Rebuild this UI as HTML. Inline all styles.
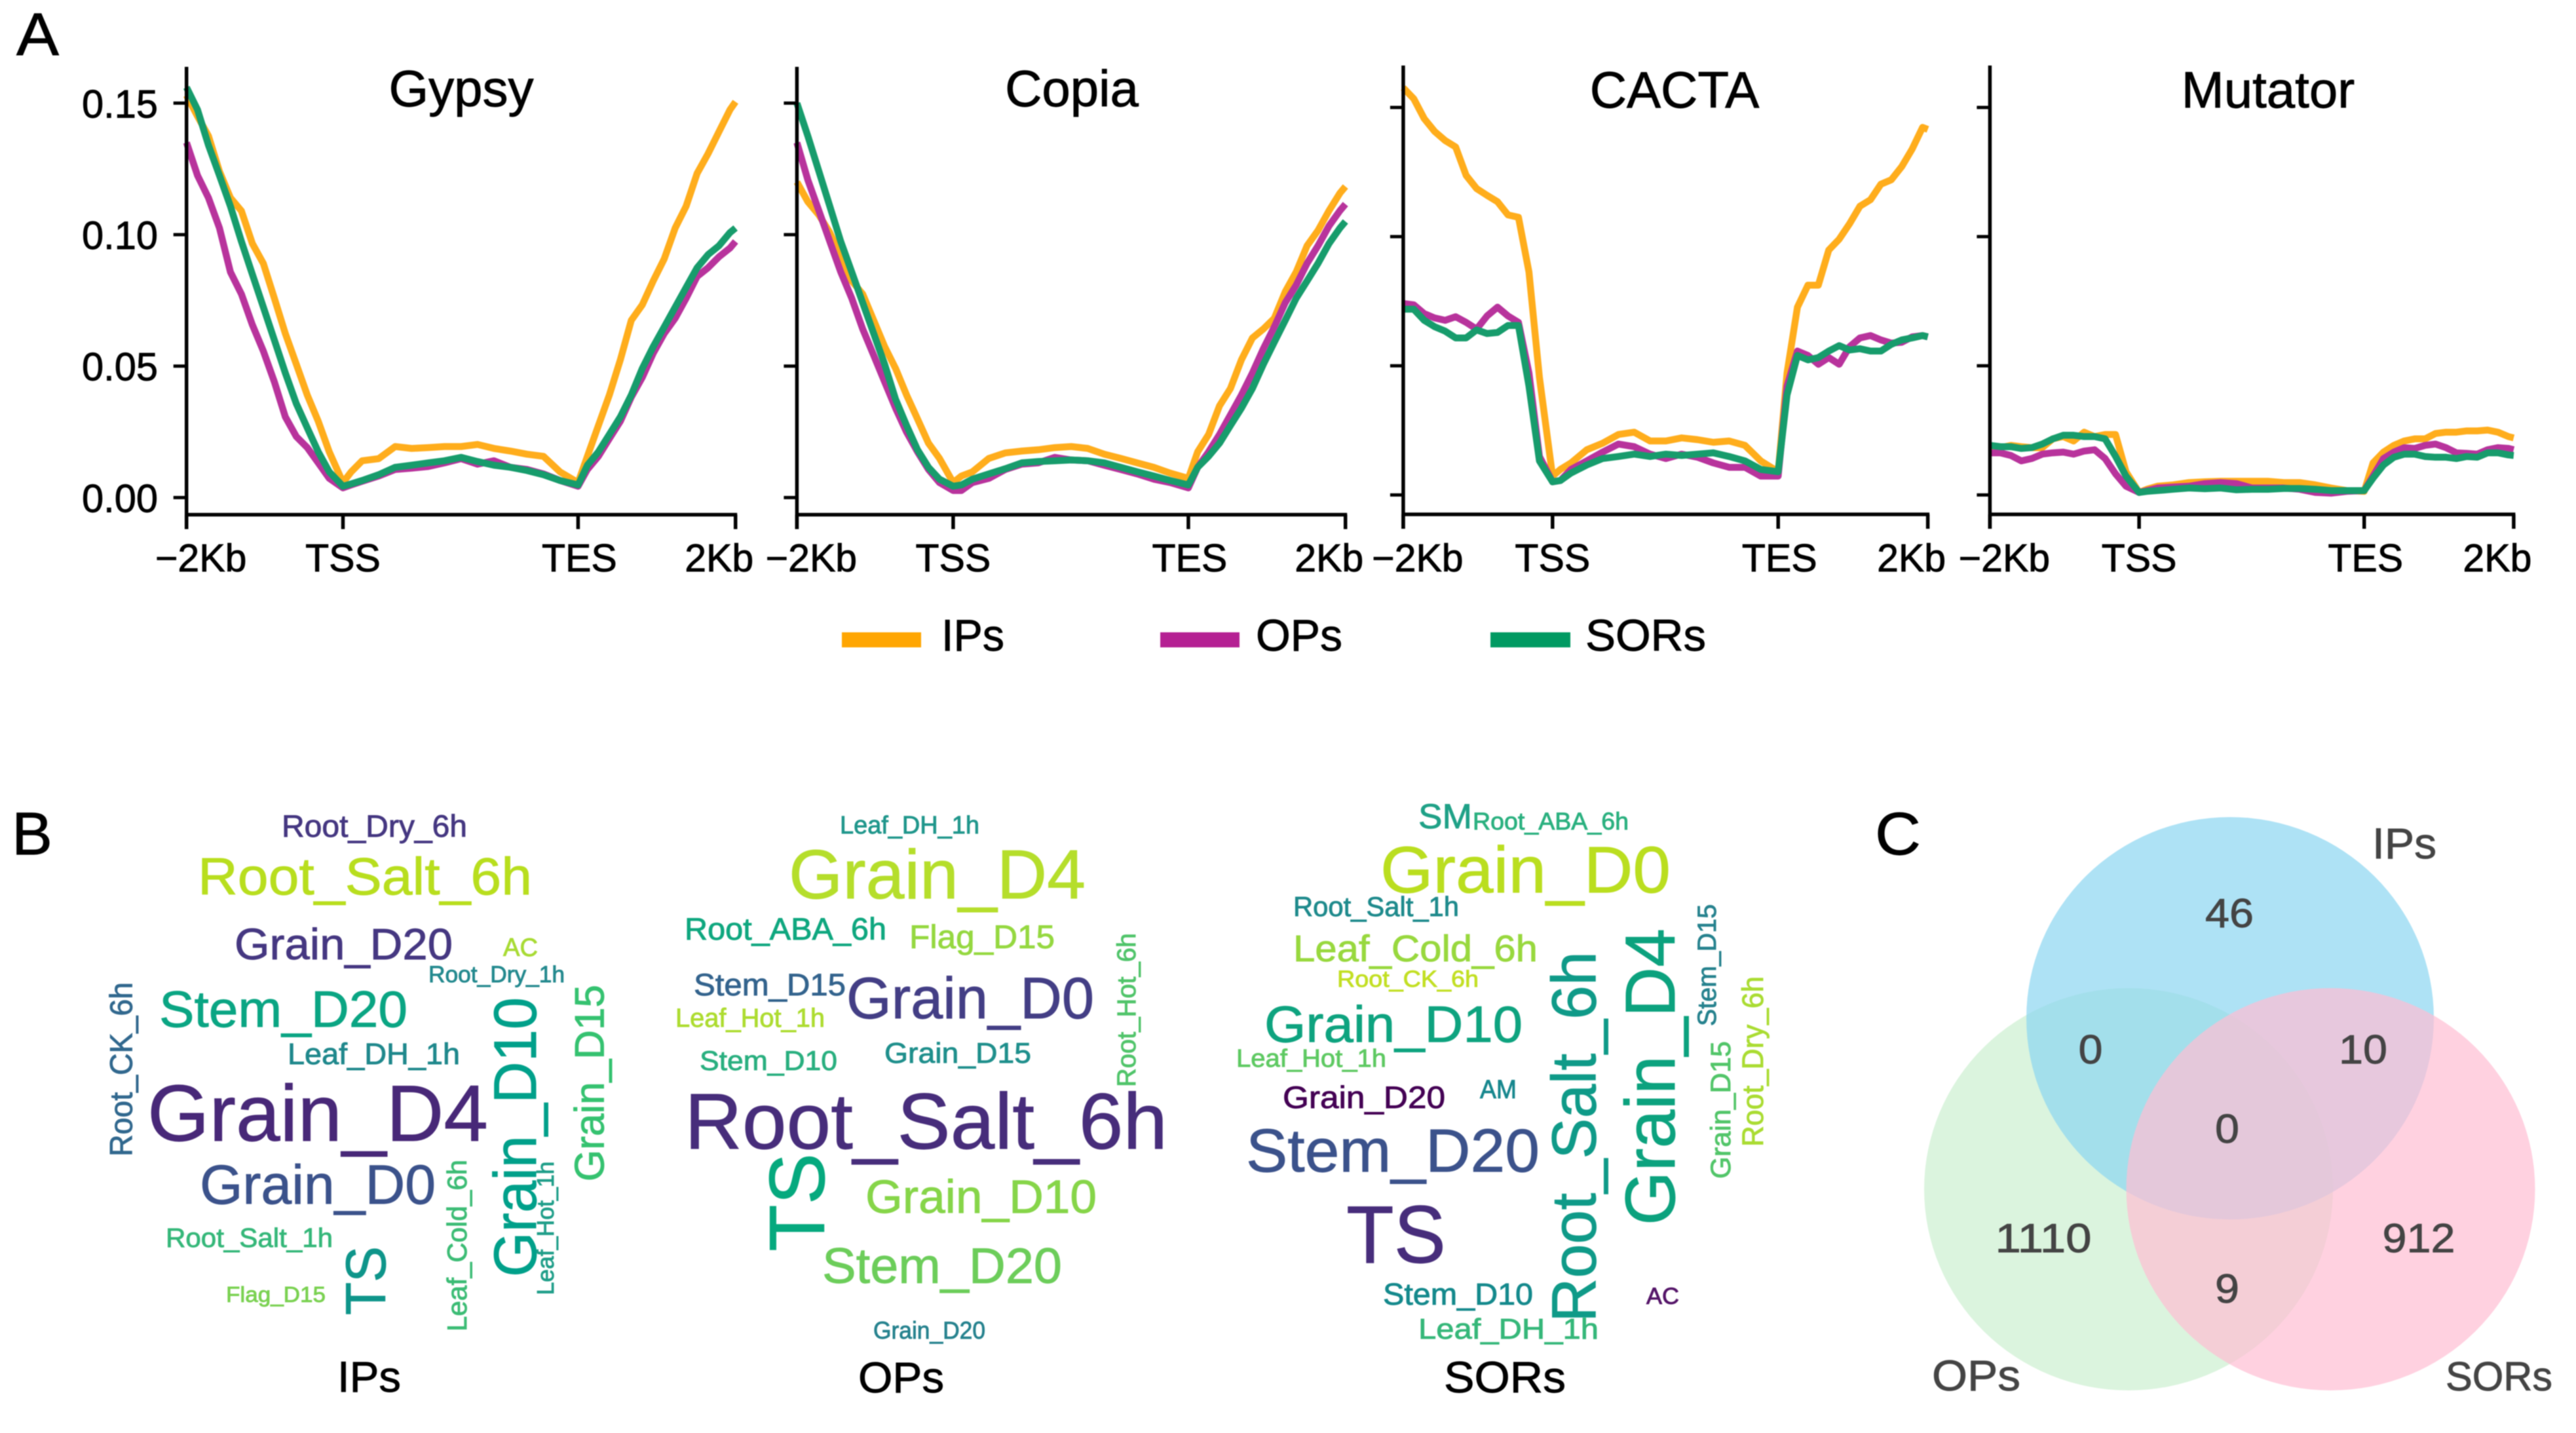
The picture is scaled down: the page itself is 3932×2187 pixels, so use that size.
<!DOCTYPE html>
<html lang="en">
<head>
<meta charset="utf-8">
<title>TE profiles, word clouds and Venn diagram</title>
<style>
html,body{margin:0;padding:0;background:#fff;}
svg{display:block;filter:blur(0.7px);}
text{font-family:"Liberation Sans",Arial,sans-serif;}
</style>
</head>
<body>
<svg id="figure" xmlns="http://www.w3.org/2000/svg" width="3932" height="2187" viewBox="0 0 3932 2187">
<rect width="3932" height="2187" fill="#fff"/>

<text x="25" y="84" font-size="92" textLength="65" lengthAdjust="spacingAndGlyphs">A</text>
<text x="18" y="1304" font-size="92" textLength="62" lengthAdjust="spacingAndGlyphs">B</text>
<text x="2862" y="1304" font-size="92" textLength="70" lengthAdjust="spacingAndGlyphs">C</text>

<g id="profiles"></g>

<g>
  <g>
    <rect x="1285" y="965" width="121" height="23" fill="#ffa602"/>
    <text x="1437" y="993" font-size="68" textLength="96" lengthAdjust="spacingAndGlyphs">IPs</text>
  </g>
  <g>
    <rect x="1771" y="965" width="121" height="23" fill="#b52093"/>
    <text x="1917" y="993" font-size="68" textLength="132" lengthAdjust="spacingAndGlyphs">OPs</text>
  </g>
  <g>
    <rect x="2275" y="965" width="122" height="23" fill="#019a62"/>
    <text x="2420" y="993" font-size="68" textLength="184" lengthAdjust="spacingAndGlyphs">SORs</text>
  </g>
</g>

<g>
  <text x="430" y="1277" font-size="47" fill="#453781" textLength="283" lengthAdjust="spacingAndGlyphs">Root_Dry_6h</text>
  <text x="302" y="1365" font-size="80" fill="#b8de1e" textLength="510" lengthAdjust="spacingAndGlyphs">Root_Salt_6h</text>
  <text x="358" y="1464" font-size="67" fill="#453781" textLength="333" lengthAdjust="spacingAndGlyphs">Grain_D20</text>
  <text x="768" y="1459" font-size="39" fill="#a8db34" textLength="53" lengthAdjust="spacingAndGlyphs">AC</text>
  <text x="654" y="1499" font-size="35" fill="#23898e" textLength="208" lengthAdjust="spacingAndGlyphs">Root_Dry_1h</text>
  <text x="243" y="1567" font-size="78" fill="#0aa583" textLength="379" lengthAdjust="spacingAndGlyphs">Stem_D20</text>
  <text x="439" y="1624" font-size="45" fill="#1f888c" textLength="263" lengthAdjust="spacingAndGlyphs">Leaf_DH_1h</text>
  <text x="225" y="1741" font-size="122" fill="#482878" textLength="520" lengthAdjust="spacingAndGlyphs">Grain_D4</text>
  <text x="305" y="1837" font-size="84" fill="#3b528b" textLength="360" lengthAdjust="spacingAndGlyphs">Grain_D0</text>
  <text x="253" y="1903" font-size="41" fill="#35b779" textLength="255" lengthAdjust="spacingAndGlyphs">Root_Salt_1h</text>
  <text x="345" y="1987" font-size="33" fill="#7ad151" textLength="152" lengthAdjust="spacingAndGlyphs">Flag_D15</text>
  <text transform="translate(201.5,1765) rotate(-90)" font-size="48" fill="#31688e" textLength="266" lengthAdjust="spacingAndGlyphs">Root_CK_6h</text>
  <text transform="translate(588,2007) rotate(-90)" font-size="86" fill="#0e958a" textLength="105" lengthAdjust="spacingAndGlyphs">TS</text>
  <text transform="translate(712,2032) rotate(-90)" font-size="42" fill="#3cbc75" textLength="262" lengthAdjust="spacingAndGlyphs">Leaf_Cold_6h</text>
  <text transform="translate(818,1949) rotate(-90)" font-size="92" fill="#00a08a" textLength="427" lengthAdjust="spacingAndGlyphs">Grain_D10</text>
  <text transform="translate(845,1976.5) rotate(-90)" font-size="36" fill="#1f9e89" textLength="204" lengthAdjust="spacingAndGlyphs">Leaf_Hot_1h</text>
  <text transform="translate(921.5,1803) rotate(-90)" font-size="63" fill="#35c270" textLength="300" lengthAdjust="spacingAndGlyphs">Grain_D15</text>
  <text x="515" y="2124" font-size="66" fill="#000" textLength="97" lengthAdjust="spacingAndGlyphs">IPs</text>
</g>

<g>
  <text x="1282" y="1272" font-size="38" fill="#1f968b" textLength="213" lengthAdjust="spacingAndGlyphs">Leaf_DH_1h</text>
  <text x="1204" y="1371" font-size="106" fill="#b5de2b" textLength="453" lengthAdjust="spacingAndGlyphs">Grain_D4</text>
  <text x="1045" y="1434" font-size="47" fill="#0fa77f" textLength="308" lengthAdjust="spacingAndGlyphs">Root_ABA_6h</text>
  <text x="1388" y="1447" font-size="50" fill="#95d840" textLength="222" lengthAdjust="spacingAndGlyphs">Flag_D15</text>
  <text x="1059" y="1519" font-size="47" fill="#33638d" textLength="232" lengthAdjust="spacingAndGlyphs">Stem_D15</text>
  <text x="1292" y="1554" font-size="89" fill="#433e85" textLength="378" lengthAdjust="spacingAndGlyphs">Grain_D0</text>
  <text x="1031" y="1567" font-size="40" fill="#addc30" textLength="228" lengthAdjust="spacingAndGlyphs">Leaf_Hot_1h</text>
  <text x="1068" y="1633" font-size="42" fill="#29af7f" textLength="210" lengthAdjust="spacingAndGlyphs">Stem_D10</text>
  <text x="1350" y="1622" font-size="44" fill="#1f8f8c" textLength="224" lengthAdjust="spacingAndGlyphs">Grain_D15</text>
  <text x="1045" y="1753" font-size="121" fill="#472d7b" textLength="737" lengthAdjust="spacingAndGlyphs">Root_Salt_6h</text>
  <text x="1321" y="1851" font-size="71" fill="#86d549" textLength="353" lengthAdjust="spacingAndGlyphs">Grain_D10</text>
  <text x="1255" y="1958" font-size="76" fill="#6ccd5a" textLength="366" lengthAdjust="spacingAndGlyphs">Stem_D20</text>
  <text x="1333" y="2043" font-size="37" fill="#26828e" textLength="171" lengthAdjust="spacingAndGlyphs">Grain_D20</text>
  <text transform="translate(1733,1659) rotate(-90)" font-size="40" fill="#50c46a" textLength="235" lengthAdjust="spacingAndGlyphs">Root_Hot_6h</text>
  <text transform="translate(1258,1910) rotate(-90)" font-size="120" fill="#06a97e" textLength="150" lengthAdjust="spacingAndGlyphs">TS</text>
  <text x="1310" y="2125" font-size="66" fill="#000" textLength="131" lengthAdjust="spacingAndGlyphs">OPs</text>
</g>

<g>
  <text x="2165" y="1264" font-size="53" fill="#1fa187" textLength="82" lengthAdjust="spacingAndGlyphs">SM</text>
  <text x="2248" y="1266" font-size="37" fill="#2ab07f" textLength="238" lengthAdjust="spacingAndGlyphs">Root_ABA_6h</text>
  <text x="2107" y="1362" font-size="100" fill="#bade1f" textLength="443" lengthAdjust="spacingAndGlyphs">Grain_D0</text>
  <text x="1974" y="1398" font-size="42" fill="#1e8a8c" textLength="253" lengthAdjust="spacingAndGlyphs">Root_Salt_1h</text>
  <text x="1974" y="1467" font-size="57" fill="#98d83e" textLength="373" lengthAdjust="spacingAndGlyphs">Leaf_Cold_6h</text>
  <text x="2041" y="1506" font-size="35" fill="#c2df23" textLength="216" lengthAdjust="spacingAndGlyphs">Root_CK_6h</text>
  <text x="1930" y="1590" font-size="78" fill="#0ea37f" textLength="394" lengthAdjust="spacingAndGlyphs">Grain_D10</text>
  <text x="1887" y="1628" font-size="38" fill="#5ec962" textLength="229" lengthAdjust="spacingAndGlyphs">Leaf_Hot_1h</text>
  <text x="1958" y="1691" font-size="47" fill="#440154" textLength="248" lengthAdjust="spacingAndGlyphs">Grain_D20</text>
  <text x="2259" y="1676" font-size="40" fill="#17878e" textLength="56" lengthAdjust="spacingAndGlyphs">AM</text>
  <text x="1902" y="1788" font-size="93" fill="#3b528b" textLength="448" lengthAdjust="spacingAndGlyphs">Stem_D20</text>
  <text x="2055" y="1927" font-size="124" fill="#472d7b" textLength="152" lengthAdjust="spacingAndGlyphs">TS</text>
  <text x="2111" y="1991" font-size="46" fill="#14898c" textLength="229" lengthAdjust="spacingAndGlyphs">Stem_D10</text>
  <text x="2165" y="2043" font-size="44" fill="#35b779" textLength="275" lengthAdjust="spacingAndGlyphs">Leaf_DH_1h</text>
  <text x="2513" y="1990" font-size="35" fill="#541468" textLength="50" lengthAdjust="spacingAndGlyphs">AC</text>
  <text transform="translate(2435.5,2018) rotate(-90)" font-size="96" fill="#0f9a88" textLength="566" lengthAdjust="spacingAndGlyphs">Root_Salt_6h</text>
  <text transform="translate(2556,1870) rotate(-90)" font-size="108" fill="#0ca27e" textLength="453" lengthAdjust="spacingAndGlyphs">Grain_D4</text>
  <text transform="translate(2619,1566) rotate(-90)" font-size="40" fill="#26828e" textLength="186" lengthAdjust="spacingAndGlyphs">Stem_D15</text>
  <text transform="translate(2641,1799) rotate(-90)" font-size="43" fill="#52c569" textLength="210" lengthAdjust="spacingAndGlyphs">Grain_D15</text>
  <text transform="translate(2691,1750) rotate(-90)" font-size="45" fill="#aadc32" textLength="260" lengthAdjust="spacingAndGlyphs">Root_Dry_6h</text>
  <text x="2204" y="2125" font-size="67" fill="#000" textLength="186" lengthAdjust="spacingAndGlyphs">SORs</text>
</g>

<g>
  <ellipse cx="3249" cy="1815" rx="312" ry="307" fill="#ccefd0" fill-opacity="0.7"/>
  <ellipse cx="3404" cy="1554" rx="311" ry="307" fill="#8bd6f1" fill-opacity="0.7"/>
  <ellipse cx="3557.5" cy="1815" rx="312" ry="307" fill="#ffbdd3" fill-opacity="0.7"/>
  <g fill="#444" font-size="62" text-anchor="middle">
    <text x="3403" y="1415" textLength="74" lengthAdjust="spacingAndGlyphs">46</text>
    <text x="3191" y="1623" textLength="37" lengthAdjust="spacingAndGlyphs">0</text>
    <text x="3607" y="1623" textLength="74" lengthAdjust="spacingAndGlyphs">10</text>
    <text x="3399.5" y="1744" textLength="37" lengthAdjust="spacingAndGlyphs">0</text>
    <text x="3119" y="1911" textLength="147" lengthAdjust="spacingAndGlyphs">1110</text>
    <text x="3692" y="1911" textLength="111" lengthAdjust="spacingAndGlyphs">912</text>
    <text x="3399.5" y="1988" textLength="37" lengthAdjust="spacingAndGlyphs">9</text>
  </g>
  <text x="3621" y="1310" font-size="66" fill="#444" textLength="98" lengthAdjust="spacingAndGlyphs">IPs</text>
  <text x="2949" y="2122" font-size="66" fill="#444" textLength="135" lengthAdjust="spacingAndGlyphs">OPs</text>
  <text x="3733" y="2122" font-size="62" fill="#444" textLength="163" lengthAdjust="spacingAndGlyphs">SORs</text>
</g>
</svg>

<script>
// ---- Chart data ----
const xBins = [0,2,4,6,8,10,12,14,16,18,20,22,24,26,28.5,30,32,35,38,41,44,47,50,53,56,59,62,65,68,71.3,73,75,77,79,81,83,85,87,89,91,93,95,97,99,100];
const xTickBins = [0,28.5,71.3,100];
const xTickLabels = ['\u22122Kb','TSS','TES','2Kb'];
const yTickValues = [0,0.05,0.10,0.15];
const yTickLabels = ['0.00','0.05','0.10','0.15'];
const panelTitles = ['Gypsy','Copia','CACTA','Mutator'];
const seriesNames = ['IPs','OPs','SORs'];

const gypsyIPs = [.153,.145,.1375,.124,.114,.109,.0966,.089,.0758,.0624,.0507,.039,.029,.0174,.0057,.0098,.014,.0148,.0194,.0187,.019,.0194,.0194,.0202,.0187,.0177,.0165,.0157,.0098,.0057,.0157,.0274,.039,.0524,.0674,.0733,.0824,.0908,.1025,.1108,.1233,.1308,.1392,.1475,.1505];
const gypsyOPs = [.135,.1225,.114,.1025,.0858,.0774,.0657,.0557,.044,.0307,.0232,.019,.0132,.0073,.0037,.0048,.0062,.0082,.0107,.0112,.0118,.0132,.0148,.0127,.014,.0115,.0107,.009,.0065,.0043,.0107,.0157,.0224,.029,.0382,.0457,.0549,.0624,.0682,.0758,.0841,.0874,.0916,.0949,.0974];
const gypsySORs = [.156,.1475,.134,.1225,.1108,.0974,.0849,.0724,.0599,.0474,.0357,.0265,.0174,.0098,.0043,.0052,.0065,.0087,.0115,.0123,.0132,.014,.0153,.0137,.0123,.0115,.0103,.0087,.0065,.0048,.0123,.0174,.024,.0307,.039,.0491,.0574,.0649,.0724,.0799,.0874,.0924,.0958,.1008,.1025];

const copiaIPs = [.12,.1125,.1075,.1008,.0916,.0824,.0774,.0674,.0574,.0491,.039,.0299,.0207,.0149,.0057,.0082,.0098,.0149,.017,.0177,.0182,.019,.0194,.0187,.0165,.0149,.0132,.0115,.0093,.0073,.0174,.024,.0349,.0415,.0524,.0607,.0641,.0682,.0783,.0858,.0958,.1016,.1091,.1158,.1183];
const copiaOPs = [.135,.1208,.1091,.0974,.0858,.0758,.0641,.0541,.044,.034,.0249,.0174,.0107,.0057,.0027,.0027,.0057,.0073,.0107,.0127,.0132,.0153,.0143,.014,.0123,.0107,.009,.007,.0057,.0037,.0115,.0174,.024,.0315,.039,.0474,.0566,.0649,.0741,.0808,.0891,.0958,.1033,.1091,.1116];
const copiaSORs = [.15,.1375,.1241,.1108,.0974,.0858,.0741,.0624,.0507,.0374,.0274,.0182,.0115,.007,.0043,.0048,.007,.009,.011,.0132,.0137,.014,.0143,.014,.0132,.0115,.0098,.0082,.0065,.0048,.0115,.0157,.0207,.0274,.034,.0415,.0507,.0591,.0674,.0758,.0824,.0891,.0966,.1025,.105];

const cactaIPs = [.1576,.1534,.1457,.1407,.1372,.1347,.1237,.1186,.116,.1135,.1084,.1075,.0863,.0455,.0073,.0099,.0124,.0175,.02,.0234,.0243,.0209,.0209,.0221,.0214,.0204,.0209,.0192,.0132,.009,.0472,.0727,.0812,.0812,.0948,.099,.105,.1118,.1143,.1203,.122,.1271,.1339,.1423,.1415];
const cactaOPs = [.0741,.0736,.0702,.0685,.0676,.069,.0668,.0642,.0693,.0727,.0693,.0668,.0472,.0149,.0051,.0056,.0099,.0132,.0166,.0197,.0187,.0158,.0141,.0158,.0146,.0124,.0107,.0107,.0073,.0073,.0421,.0557,.054,.0506,.0532,.0506,.0574,.0608,.0617,.06,.0588,.0591,.0612,.0617,.0612];
const cactaSORs = [.0719,.0719,.0676,.0651,.0634,.0608,.0608,.0639,.0625,.0629,.0656,.0656,.0421,.0132,.0051,.0056,.0085,.0116,.0141,.0149,.0158,.0149,.0158,.0153,.0158,.0163,.0149,.0132,.0099,.009,.0387,.054,.0523,.0532,.0557,.0578,.0561,.0566,.0557,.0557,.0583,.06,.0608,.0617,.0612];

const mutatorIPs = [.0183,.0183,.0192,.0187,.0183,.0183,.0217,.0226,.0209,.0243,.0226,.0234,.0234,.009,.001,.0022,.0034,.0039,.0048,.0051,.0053,.0053,.0053,.0053,.0048,.0048,.0039,.0027,.0017,.0014,.0124,.0166,.0192,.0209,.0217,.0217,.0238,.0243,.0243,.0248,.0248,.0251,.0243,.0226,.0221];
const mutatorOPs = [.0163,.0163,.0153,.0132,.0141,.0158,.0163,.0166,.0158,.017,.0175,.0141,.0082,.0034,.001,.0017,.0027,.0031,.0034,.0044,.0048,.0044,.0027,.0027,.0027,.0022,.001,.0007,.0014,.0017,.0073,.0141,.0166,.0183,.018,.0192,.0197,.0183,.0163,.0161,.0158,.0175,.0183,.018,.0175];
const mutatorSORs = [.0192,.0187,.0187,.018,.0183,.0197,.0217,.0231,.0231,.0226,.0226,.0217,.015,.0073,.001,.0014,.0017,.0022,.0027,.0024,.0027,.002,.0022,.0022,.0025,.0025,.0022,.0017,.0017,.0017,.0065,.0116,.0146,.0158,.0158,.0149,.0146,.0146,.0141,.0149,.0146,.0163,.0163,.0155,.0153];

// ---- Layout ----
const seriesColors = ['#ffad1c','#b8339c','#179c6c'];
const panelSeries = [
  [gypsyIPs,gypsyOPs,gypsySORs],
  [copiaIPs,copiaOPs,copiaSORs],
  [cactaIPs,cactaOPs,cactaSORs],
  [mutatorIPs,mutatorOPs,mutatorSORs]
];
const panelLayout = [
  {left:284.7,tss:523.5,tes:882.4,right:1122.7,y0:759.4,y15:157.4,base:785.5,top:102,cx:704,titleY:162},
  {left:1216.4,tss:1454.9,tes:1813.9,right:2053.7,y0:759.4,y15:157.4,base:785.5,top:102,cx:1636,titleY:162},
  {left:2141.9,tss:2369.8,tes:2714.2,right:2942.6,y0:755.4,y15:164,base:785,top:100,cx:2556,titleY:164},
  {left:3037.4,tss:3265.1,tes:3608.7,right:3836.9,y0:755.4,y15:164,base:785,top:100,cx:3462,titleY:164}
];
const xLabelCenterOffset = [22,0,2,-25];
const NS = 'http://www.w3.org/2000/svg';
const root = document.getElementById('profiles');

function make(tag, attrs, parent) {
  const el = document.createElementNS(NS, tag);
  for (const k in attrs) el.setAttribute(k, attrs[k]);
  parent.appendChild(el);
  return el;
}
function xScale(p, b) {
  if (b <= 28.5) return p.left + (p.tss - p.left) * b / 28.5;
  if (b <= 71.3) return p.tss + (p.tes - p.tss) * (b - 28.5) / (71.3 - 28.5);
  return p.tes + (p.right - p.tes) * (b - 71.3) / (100 - 71.3);
}
function yScale(p, v) {
  return p.y0 + (p.y15 - p.y0) * v / 0.15;
}

panelLayout.forEach(function (p, pi) {
  const g = make('g', {}, root);
  
  

  panelSeries[pi].forEach(function (vals, si) {
    const d = vals.map(function (v, i) {
      return (i ? 'L' : 'M') + xScale(p, xBins[i]).toFixed(1) + ' ' + yScale(p, v).toFixed(1);
    }).join('');
    const line = make('path', {d: d, fill: 'none', stroke: seriesColors[si], 'stroke-width': 10.5, 'stroke-linejoin': 'round', 'stroke-linecap': 'butt'}, g);
    
    
  });

  const yAxis = make('line', {x1: p.left, x2: p.left, y1: p.top, y2: p.base + 22, stroke: '#000', 'stroke-width': 5.5}, g);
  
  
  const xAxis = make('line', {x1: p.left, x2: p.right + 2.5, y1: p.base, y2: p.base, stroke: '#000', 'stroke-width': 5.5}, g);
  
  

  yTickValues.forEach(function (v, i) {
    const y = yScale(p, v);
    const tick = make('line', {x1: p.left - 20, x2: p.left, y1: y, y2: y, stroke: '#000', 'stroke-width': 5}, g);
    
    
    if (pi === 0) {
      const lab = make('text', {x: 241, y: y + 22, 'font-size': 60, 'text-anchor': 'end', textLength: 116, lengthAdjust: 'spacingAndGlyphs'}, g);
      lab.textContent = yTickLabels[i];
      
      
    }
  });

  xTickBins.forEach(function (b, i) {
    const x = xScale(p, b);
    const tick = make('line', {x1: x, x2: x, y1: p.base, y2: p.base + 22, stroke: '#000', 'stroke-width': 5.5}, g);
    
    
    const lab = make('text', {x: x + xLabelCenterOffset[i], y: 872, 'font-size': 59, 'text-anchor': 'middle'}, g);
    lab.textContent = xTickLabels[i];
    
    
  });

  const title = make('text', {x: p.cx, y: p.titleY, 'font-size': 78, 'text-anchor': 'middle'}, g);
  title.textContent = panelTitles[pi];
  
  
});

// Slightly heavier glyphs, matching the weight of the raster reference.
document.querySelectorAll('text').forEach(function (t) {
  const fill = t.getAttribute('fill') || (t.parentNode.getAttribute && t.parentNode.getAttribute('fill')) || '#000';
  t.setAttribute('stroke', fill);
  t.setAttribute('stroke-width', '0.9');
});
</script>
</body>
</html>
